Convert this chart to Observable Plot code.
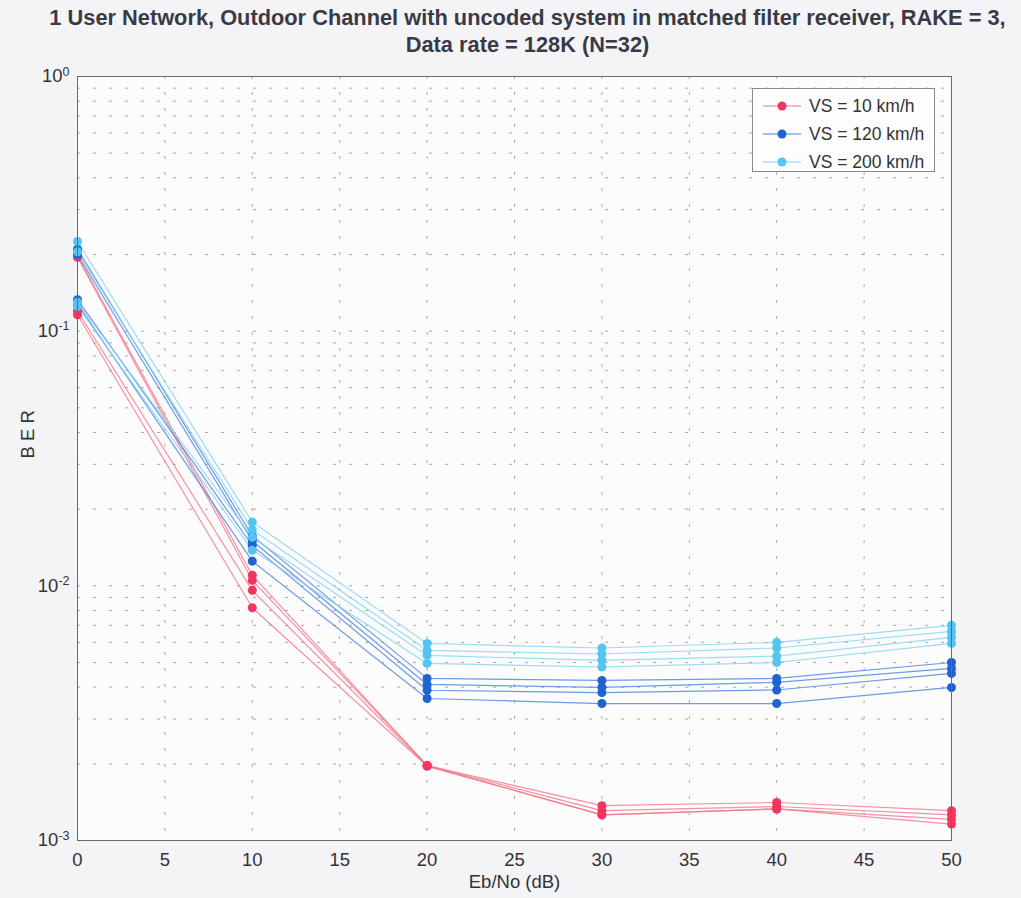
<!DOCTYPE html>
<html><head><meta charset="utf-8">
<script src="https://cdn.jsdelivr.net/npm/d3@7"></script>
<script src="https://cdn.jsdelivr.net/npm/@observablehq/plot@0.6"></script>
<style>
body{margin:0;background:#f4f4f7;font-family:"Liberation Sans",Arial,sans-serif;}
#wrap{position:relative;width:1021px;height:898px;overflow:hidden}
#title{height:62px;text-align:center;font-weight:bold;font-size:21.8px;color:#3a3a46;line-height:27px;padding-top:4px;box-sizing:border-box;white-space:nowrap;padding-left:34px}
#legend{position:absolute;left:752px;top:88px;width:183px;height:84px;border:1px solid #8a8a8a;background:#fdfdfe;box-sizing:border-box;padding-top:3px}
.item{height:28px;display:flex;align-items:center;font-size:17.5px;color:#333}
.item svg{margin-left:10px;margin-right:8px}
</style></head>
<body><div id="wrap">
<div id="title">1 User Network, Outdoor Channel with uncoded system in matched filter receiver, RAKE = 3,<br>Data rate = 128K (N=32)</div>
<div id="chart"></div>
<div id="legend"></div>
</div>
<script>
const ebno = [0, 10, 20, 30, 40, 50];
const seriesNames = ["VS = 10 km/h", "VS = 120 km/h", "VS = 200 km/h"];
const vs10 = [
  [0.198, 0.0110, 0.00197, 0.00137, 0.00141, 0.00131],
  [0.195, 0.0105, 0.00197, 0.00131, 0.00136, 0.00126],
  [0.120, 0.0096, 0.00196, 0.00126, 0.00133, 0.00121],
  [0.116, 0.0082, 0.00196, 0.00126, 0.00133, 0.00116]
];
const vs120 = [
  [0.210, 0.0157, 0.00433, 0.00425, 0.00433, 0.00500],
  [0.200, 0.0150, 0.00410, 0.00399, 0.00418, 0.00474],
  [0.133, 0.0144, 0.00389, 0.00381, 0.00390, 0.00453],
  [0.128, 0.0125, 0.00361, 0.00345, 0.00345, 0.00399]
];
const vs200 = [
  [0.225, 0.0178, 0.00594, 0.00570, 0.00600, 0.00700],
  [0.205, 0.0166, 0.00558, 0.00540, 0.00570, 0.00662],
  [0.130, 0.0155, 0.00533, 0.00510, 0.00530, 0.00627],
  [0.125, 0.0138, 0.00496, 0.00480, 0.00500, 0.00594]
];
const xTicks = [0, 5, 10, 15, 20, 25, 30, 35, 40, 45, 50];
const yTicks = [1e-3, 1e-2, 1e-1, 1];
const yExp = ["-3", "-2", "-1", "0"];
const lineColors = ["#f2758a", "#4a82dc", "#86d2f2"];
const dotColors = ["#f2365e", "#1f63d0", "#55c4f0"];

const yGrid = [];
for (const d of [1e-3, 1e-2, 1e-1]) for (let k = 1; k <= 9; k++) yGrid.push(d * k);
yGrid.push(1);

const rows = [];
[vs10, vs120, vs200].forEach((set, si) => set.forEach((vals, li) => vals.forEach((v, i) =>
  rows.push({series: seriesNames[si], id: si + "-" + li, x: ebno[i], y: v}))));

const chart = Plot.plot({
  width: 1021, height: 836,
  marginTop: 14, marginBottom: 58, marginLeft: 77, marginRight: 70,
  style: {background: "transparent", fontFamily: "Liberation Sans, Arial, sans-serif", fontSize: "18px", color: "#333"},
  x: {domain: [0, 50], label: null},
  y: {type: "log", domain: [1e-3, 1], label: null},
  color: {domain: seriesNames, range: lineColors},
  marks: [
    Plot.frame({fill: "#fcfcfd", stroke: null}),
    Plot.gridX(xTicks, {stroke: "#666", strokeOpacity: 0.55, strokeDasharray: "3,13"}),
    Plot.gridY(yGrid, {stroke: "#666", strokeOpacity: 0.55, strokeDasharray: "3,13"}),
    Plot.line(rows, {x: "x", y: "y", z: "id", stroke: "series", strokeWidth: 1.2, strokeOpacity: 0.8}),
    Plot.dot(rows, {x: "x", y: "y", fill: (d) => dotColors[seriesNames.indexOf(d.series)], r: 4.5, stroke: null}),
    Plot.frame({stroke: "#6a6a6a", strokeWidth: 1}),
    Plot.axisX({ticks: xTicks, tickSize: 0, tickPadding: 12, fontSize: 18.5, label: null}),
    Plot.axisY({ticks: yTicks, tickSize: 0, tickPadding: 8, fontSize: 18.5, label: null, tickFormat: (d) => "10"}),
    Plot.text(["Eb/No (dB)"], {frameAnchor: "bottom", dy: 47, fontSize: 18.5, fill: "#333"}),
    Plot.text(["B E R"], {frameAnchor: "left", dx: -49, rotate: -90, fontSize: 18.5, fill: "#333"})
  ]
});
document.getElementById("chart").appendChild(chart);

// superscript exponents on y tick labels (texts come in the order of yTicks)
d3.select(chart).selectAll('g[aria-label="y-axis tick label"] text').each(function(_, i) {
  const t = d3.select(this);
  t.text("10");
  t.append("tspan").attr("dy", "-0.55em").attr("font-size", "12.5px").text(yExp[i]);
});

const leg = d3.select("#legend");
seriesNames.forEach((n, i) => {
  const it = leg.append("div").attr("class", "item");
  const s = it.append("svg").attr("width", 38).attr("height", 12);
  s.append("line").attr("x1", 0).attr("x2", 38).attr("y1", 6).attr("y2", 6).attr("stroke", lineColors[i]).attr("stroke-width", 1.2);
  s.append("circle").attr("cx", 19).attr("cy", 6).attr("r", 4.5).attr("fill", dotColors[i]);
  it.append("span").text(n);
});
</script>
</body></html>
